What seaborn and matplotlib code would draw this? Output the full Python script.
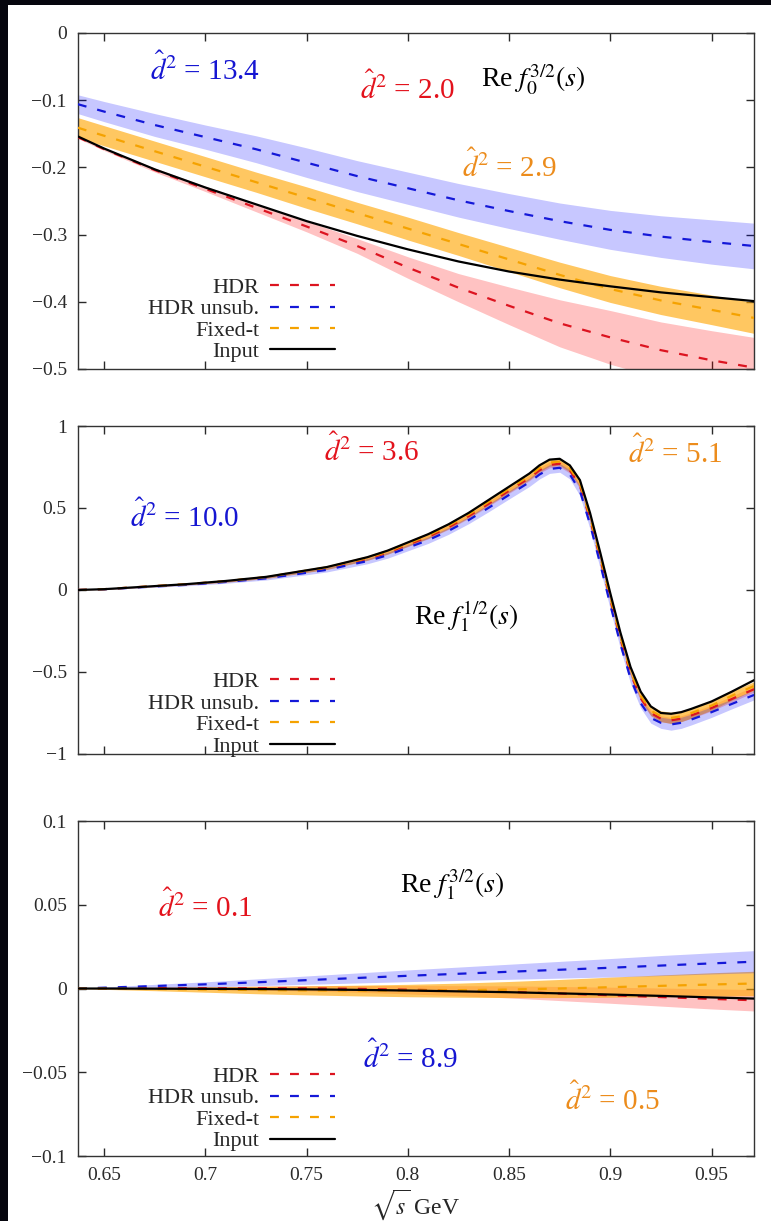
import numpy as np
import matplotlib
matplotlib.use("Agg")
import matplotlib.pyplot as plt
from matplotlib.lines import Line2D
import seaborn as sns

# ── data ───────────────────────────────────────────────────────────────────
# panel 1 : Re f0^{3/2}(s)
x1 = [0.637, 0.65, 0.675, 0.70, 0.725, 0.75, 0.775, 0.80, 0.825, 0.85, 0.875, 0.90, 0.925, 0.95, 0.971]
hdr1 = [-0.155, -0.173, -0.204, -0.232, -0.260, -0.288, -0.317, -0.349, -0.379, -0.406, -0.432, -0.453, -0.472, -0.487, -0.498]
unsub1 = [-0.106, -0.117, -0.137, -0.155, -0.173, -0.193, -0.213, -0.231, -0.249, -0.265, -0.280, -0.293, -0.303, -0.311, -0.317]
fixt1 = [-0.141, -0.153, -0.176, -0.199, -0.222, -0.245, -0.268, -0.291, -0.314, -0.337, -0.360, -0.381, -0.398, -0.412, -0.424]
input1 = [-0.154, -0.172, -0.203, -0.230, -0.255, -0.280, -0.302, -0.322, -0.340, -0.355, -0.367, -0.377, -0.386, -0.393, -0.399]
hdr1_err = [0.002, 0.002, 0.003, 0.004, 0.006, 0.008, 0.011, 0.016, 0.021, 0.028, 0.035, 0.040, 0.042, 0.044, 0.045]
unsub1_err = [0.014, 0.015, 0.017, 0.018, 0.020, 0.022, 0.023, 0.024, 0.025, 0.026, 0.027, 0.029, 0.031, 0.033, 0.034]
fixt1_err = [0.015, 0.015, 0.015, 0.015, 0.015, 0.016, 0.016, 0.017, 0.017, 0.018, 0.019, 0.020, 0.021, 0.022, 0.023]

# panel 2 : Re f1^{1/2}(s)
x2 = [0.637, 0.65, 0.67, 0.69, 0.71, 0.73, 0.75, 0.76, 0.77, 0.78, 0.79, 0.80, 0.81, 0.82, 0.83, 0.84, 0.85,
      0.86, 0.865, 0.87, 0.875, 0.88, 0.885, 0.89, 0.895, 0.90, 0.905, 0.91, 0.915, 0.92, 0.925, 0.93,
      0.935, 0.94, 0.95, 0.96, 0.971]
input2 = [0.0, 0.005, 0.02, 0.035, 0.055, 0.08, 0.12, 0.14, 0.17, 0.20, 0.24, 0.29, 0.34, 0.40, 0.47, 0.55, 0.63,
          0.71, 0.76, 0.795, 0.80, 0.76, 0.67, 0.47, 0.23, -0.02, -0.26, -0.47, -0.62, -0.71, -0.75, -0.755,
          -0.745, -0.725, -0.68, -0.62, -0.55]
hdr2 = [0.0, 0.005, 0.02, 0.034, 0.053, 0.077, 0.115, 0.134, 0.162, 0.19, 0.228, 0.276, 0.324, 0.382, 0.45, 0.527, 0.606,
        0.683, 0.73, 0.763, 0.77, 0.73, 0.635, 0.43, 0.19, -0.06, -0.3, -0.51, -0.66, -0.75, -0.785, -0.795,
        -0.785, -0.765, -0.72, -0.665, -0.605]
unsub2 = [0.0, 0.004, 0.018, 0.031, 0.049, 0.071, 0.105, 0.123, 0.15, 0.176, 0.212, 0.258, 0.304, 0.36, 0.426, 0.502, 0.58,
          0.657, 0.704, 0.738, 0.745, 0.705, 0.605, 0.40, 0.16, -0.09, -0.33, -0.54, -0.69, -0.78, -0.81, -0.82,
          -0.81, -0.79, -0.745, -0.695, -0.64]
fixt2 = [0.0, 0.005, 0.02, 0.035, 0.054, 0.079, 0.118, 0.137, 0.166, 0.195, 0.234, 0.283, 0.332, 0.391, 0.46, 0.538, 0.617,
         0.695, 0.743, 0.777, 0.783, 0.743, 0.65, 0.445, 0.205, -0.045, -0.285, -0.495, -0.645, -0.735, -0.77, -0.78,
         -0.77, -0.75, -0.705, -0.645, -0.585]
hdr2_err = [0.0, 0.001, 0.002, 0.003, 0.004, 0.005, 0.006, 0.007, 0.008, 0.009, 0.01, 0.011, 0.012, 0.013, 0.014, 0.015, 0.016,
            0.017, 0.017, 0.018, 0.018, 0.018, 0.018, 0.018, 0.018, 0.018, 0.018, 0.018, 0.018, 0.018, 0.018, 0.018,
            0.018, 0.018, 0.018, 0.018, 0.018]
unsub2_err = [0.0, 0.002, 0.004, 0.006, 0.008, 0.01, 0.012, 0.013, 0.015, 0.016, 0.018, 0.019, 0.02, 0.021, 0.022, 0.024, 0.025,
              0.026, 0.027, 0.027, 0.027, 0.028, 0.03, 0.03, 0.03, 0.03, 0.03, 0.03, 0.03, 0.032, 0.034, 0.035,
              0.034, 0.033, 0.032, 0.03, 0.03]
fixt2_err = [0.0, 0.002, 0.003, 0.005, 0.007, 0.009, 0.011, 0.012, 0.013, 0.014, 0.015, 0.016, 0.017, 0.018, 0.019, 0.02, 0.021,
             0.022, 0.022, 0.022, 0.022, 0.023, 0.024, 0.025, 0.025, 0.025, 0.025, 0.025, 0.026, 0.03, 0.033, 0.034,
             0.033, 0.031, 0.028, 0.027, 0.026]

# panel 3 : Re f1^{3/2}(s)
x3 = [0.637, 0.65, 0.675, 0.70, 0.725, 0.75, 0.775, 0.80, 0.825, 0.85, 0.875, 0.90, 0.925, 0.95, 0.971]
hdr3 = [0.0, 0.0001, 0.0002, 0.0002, 0.0002, 0.0001, -0.0002, -0.0007, -0.0013, -0.0020, -0.0030, -0.0040, -0.0051, -0.0062, -0.0070]
unsub3 = [0.0, 0.0005, 0.0015, 0.0025, 0.0037, 0.005, 0.0063, 0.0076, 0.0088, 0.010, 0.0112, 0.0124, 0.0137, 0.0150, 0.0160]
fixt3 = [0.0, 0.0, -0.0003, -0.0006, -0.0009, -0.0011, -0.0012, -0.0012, -0.0010, -0.0006, 0.0, 0.0008, 0.0016, 0.0024, 0.0030]
input3 = [0.0, 0.0, -0.0001, -0.0002, -0.0003, -0.0005, -0.0008, -0.0012, -0.0017, -0.0022, -0.0029, -0.0036, -0.0044, -0.0053, -0.0060]
hdr3_err = [0.0, 0.0003, 0.0006, 0.0009, 0.0012, 0.0016, 0.002, 0.0025, 0.003, 0.0036, 0.0042, 0.0048, 0.0054, 0.006, 0.0064]
unsub3_err = [0.0, 0.0004, 0.001, 0.0015, 0.002, 0.0025, 0.003, 0.0035, 0.004, 0.0045, 0.005, 0.0055, 0.006, 0.0063, 0.0066]
fixt3_err = [0.0, 0.0005, 0.001, 0.0016, 0.0022, 0.0027, 0.0032, 0.0037, 0.0042, 0.0048, 0.0054, 0.006, 0.0065, 0.007, 0.0073]

xticks = [0.65, 0.7, 0.75, 0.8, 0.85, 0.9, 0.95]
xticklabels = ['0.65', '0.7', '0.75', '0.8', '0.85', '0.9', '0.95']
yticks1 = [0, -0.1, -0.2, -0.3, -0.4, -0.5]
yticklabels1 = ['0', '\u22120.1', '\u22120.2', '\u22120.3', '\u22120.4', '\u22120.5']
yticks2 = [1, 0.5, 0, -0.5, -1]
yticklabels2 = ['1', '0.5', '0', '\u22120.5', '\u22121']
yticks3 = [0.1, 0.05, 0, -0.05, -0.1]
yticklabels3 = ['0.1', '0.05', '0', '\u22120.05', '\u22120.1']

labels = ['HDR', 'HDR unsub.', 'Fixed-t', 'Input']
d2_texts1 = ['13.4', '2.0', '2.9']
d2_texts2 = ['10.0', '3.6', '5.1']
d2_texts3 = ['8.9', '0.1', '0.5']

# ── style ──────────────────────────────────────────────────────────────────
sns.set_style("ticks")
plt.rcParams['font.family'] = ['Liberation Serif', 'DejaVu Serif']
plt.rcParams['mathtext.fontset'] = 'stix'
plt.rcParams['axes.unicode_minus'] = True

RED, BLUE, ORANGE = '#dc1420', '#1418d8', '#f5a200'
TRED, TBLUE, TORANGE = '#e3121c', '#1616d2', '#ec8c1c'
DASH = (0, (4, 5))
D2 = r'$\hat{d}^2$ = '

fig = plt.figure(figsize=(7.71, 12.21), dpi=100, facecolor='#06060e')
fig.patches.append(plt.Rectangle((8 / 771, 0), 1, 1 - 5 / 1221, transform=fig.transFigure,
                                 facecolor='white', edgecolor='none', zorder=-10))

ax1 = fig.add_axes([0.101, 0.6978, 0.877, 0.2752])
ax2 = fig.add_axes([0.101, 0.3825, 0.877, 0.2686])
ax3 = fig.add_axes([0.101, 0.0532, 0.877, 0.2744])


def draw_panel(ax, x, hdr, unsub, fixt, inp, e_hdr, e_unsub, e_fixt):
    x = np.array(x)
    for y, e, c, a in [(hdr, e_hdr, 'red', 0.24), (fixt, e_fixt, '#ffa500', 0.62), (unsub, e_unsub, 'blue', 0.22)]:
        y, e = np.array(y), np.array(e)
        ax.fill_between(x, y - e, y + e, color=c, alpha=a, lw=0, zorder=1)
    for y, c in [(hdr, RED), (unsub, BLUE), (fixt, ORANGE)]:
        sns.lineplot(x=x, y=y, ax=ax, color=c, lw=1.6, linestyle=DASH,
                     estimator=None, sort=False, errorbar=None, legend=False, zorder=3)
    sns.lineplot(x=x, y=inp, ax=ax, color='black', lw=1.6,
                 estimator=None, sort=False, errorbar=None, legend=False, zorder=4)


def style_axes(ax, yticks, yticklabels, ylim, show_x):
    ax.set_xlim(0.637, 0.971)
    ax.set_ylim(*ylim)
    ax.set_xticks(xticks)
    ax.set_yticks(yticks)
    ax.set_yticklabels(yticklabels)
    if show_x:
        ax.set_xticklabels(xticklabels)
    else:
        ax.set_xticklabels([])
    ax.tick_params(direction='in', length=6, width=1, top=True, right=True,
                   labelsize=14, pad=8, colors='#2a2a2a')
    for sp in ax.spines.values():
        sp.set_linewidth(1.0)
        sp.set_color('#333333')
        sp.set_visible(True)
    ax.set_xlabel('')
    ax.set_ylabel('')


def add_legend(ax, anchor_y):
    handles = [Line2D([], [], color=RED, lw=1.6, linestyle=DASH),
               Line2D([], [], color=BLUE, lw=1.6, linestyle=DASH),
               Line2D([], [], color=ORANGE, lw=1.6, linestyle=DASH),
               Line2D([], [], color='black', lw=1.6)]
    ax.legend(handles, labels, loc='lower right', bbox_to_anchor=(0.38, anchor_y),
              markerfirst=False, frameon=False, fontsize=16, borderpad=0,
              borderaxespad=0, handlelength=2.9, handletextpad=0.5, labelspacing=0.04)


def annotate(ax, x, y, s, color, size=21):
    ax.text(x, y, s, color=color, fontsize=size, ha='center', va='center')


# panel 1
draw_panel(ax1, x1, hdr1, unsub1, fixt1, input1, hdr1_err, unsub1_err, fixt1_err)
style_axes(ax1, yticks1, yticklabels1, (-0.5, 0), False)
add_legend(ax1, 0.02)
annotate(ax1, 0.70, -0.054, D2 + d2_texts1[0], TBLUE)
annotate(ax1, 0.80, -0.082, D2 + d2_texts1[1], TRED)
annotate(ax1, 0.85, -0.198, D2 + d2_texts1[2], TORANGE)
annotate(ax1, 0.862, -0.070, r'Re $f_0^{3/2}(s)$', 'black', 20)

# panel 2
draw_panel(ax2, x2, hdr2, unsub2, fixt2, input2, hdr2_err, unsub2_err, fixt2_err)
style_axes(ax2, yticks2, yticklabels2, (-1, 1), False)
add_legend(ax2, -0.008)
annotate(ax2, 0.69, 0.45, D2 + d2_texts2[0], TBLUE)
annotate(ax2, 0.782, 0.85, D2 + d2_texts2[1], TRED)
annotate(ax2, 0.932, 0.84, D2 + d2_texts2[2], TORANGE)
annotate(ax2, 0.829, -0.16, r'Re $f_1^{1/2}(s)$', 'black', 20)

# panel 3
draw_panel(ax3, x3, hdr3, unsub3, fixt3, input3, hdr3_err, unsub3_err, fixt3_err)
style_axes(ax3, yticks3, yticklabels3, (-0.1, 0.1), True)
add_legend(ax3, 0.014)
annotate(ax3, 0.801, -0.041, D2 + d2_texts3[0], TBLUE)
annotate(ax3, 0.70, 0.049, D2 + d2_texts3[1], TRED)
annotate(ax3, 0.901, -0.066, D2 + d2_texts3[2], TORANGE)
annotate(ax3, 0.822, 0.062, r'Re $f_1^{3/2}(s)$', 'black', 20)
ax3.set_xlabel(r'$\sqrt{s}$ GeV', fontsize=17, labelpad=2)

fig.savefig('out.png', dpi=100, facecolor=fig.get_facecolor())
